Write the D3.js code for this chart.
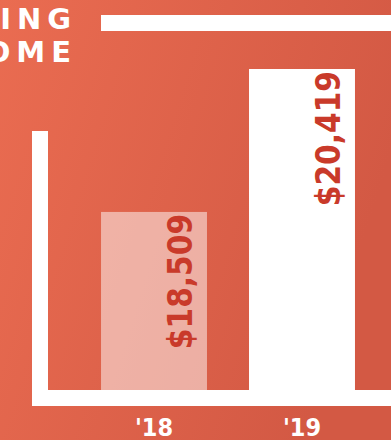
<!DOCTYPE html>
<html>
  <head>
    <meta http-equiv="Content-Type" content="text/html;charset=utf-8"/>
    <title>Rising income</title>
    <script src="https://d3js.org/d3.v7.min.js"></script>
    <style>
      body { margin: 0; overflow: hidden; }
      svg { display: block; }
    </style>
  </head>
  <body>
    <div id="content"></div>
    <script type="text/javascript">

        // chart data
        const years = ["'18", "'19"]
        const incomes = [18509, 20419]
        const titleLines = ["RISING", "INCOME"]

        const width = 391,
            height = 440,
            baseY = 390,
            axisW = 16

        const svg = d3.select('#content').append('svg')
            .attr('width', width)
            .attr('height', height)

        // background gradient
        const grad = svg.append('defs').append('linearGradient')
            .attr('id', 'bg')
            .attr('x1', 0).attr('y1', 0)
            .attr('x2', 1).attr('y2', 0.35)
        grad.append('stop').attr('offset', 0).attr('stop-color', '#ea6c51')
        grad.append('stop').attr('offset', 1).attr('stop-color', '#d35944')

        svg.append('rect')
            .attr('width', width)
            .attr('height', height)
            .attr('fill', 'url(#bg)')

        // title, cut off on the left like the original
        svg.append('g')
            .selectAll('text')
            .data(titleLines)
            .enter()
            .append('text')
            .attr('x', 77)
            .attr('y', (d, i) => 29 + i * 33)
            .attr('text-anchor', 'end')
            .attr('fill', '#fff')
            .attr('font-family', '"DejaVu Sans", sans-serif')
            .attr('font-weight', 700)
            .attr('font-size', 29)
            .attr('letter-spacing', 6)
            .text(d => d)

        // white rule next to the title
        svg.append('rect')
            .attr('x', 101)
            .attr('y', 15)
            .attr('width', width - 101)
            .attr('height', 16)
            .attr('fill', '#fff')

        const xScale = d3.scaleBand()
            .domain(years)
            .range([59, 397])
            .padding(0.284)

        const yScale = d3.scaleLinear()
            .domain([16130, 20419])
            .range([baseY, 69])

        const data = years.map((y, i) => ({ year: y, value: incomes[i] }))

        // bars
        svg.selectAll('rect.bar')
            .data(data)
            .enter()
            .append('rect')
            .attr('class', 'bar')
            .attr('x', d => xScale(d.year))
            .attr('y', d => yScale(d.value))
            .attr('width', xScale.bandwidth())
            .attr('height', d => baseY - yScale(d.value))
            .attr('fill', '#fff')
            .attr('fill-opacity', (d, i) => i === data.length - 1 ? 1 : 0.5)

        // value labels, rotated inside the bars
        svg.selectAll('text.value')
            .data(data)
            .enter()
            .append('text')
            .attr('class', 'value')
            .attr('transform', d => 'translate(' + (xScale(d.year) + xScale.bandwidth() - 15) + ',' + (yScale(d.value) + 2) + ') rotate(-90)')
            .attr('text-anchor', 'end')
            .attr('fill', '#c93a2a')
            .attr('font-family', '"DejaVu Sans Condensed", "DejaVu Sans", sans-serif')
            .attr('font-weight', 700)
            .attr('font-size', 33)
            .text(d => '$' + d3.format(',')(d.value))

        // thick white axes
        svg.append('rect')
            .attr('x', 32)
            .attr('y', 131)
            .attr('width', axisW)
            .attr('height', baseY + axisW - 131)
            .attr('fill', '#fff')

        svg.append('rect')
            .attr('x', 32)
            .attr('y', baseY)
            .attr('width', width - 32)
            .attr('height', axisW)
            .attr('fill', '#fff')

        // year labels
        const xAxis = d3.axisBottom(xScale).tickSize(0).tickPadding(0)
        const gx = svg.append('g')
            .attr('transform', 'translate(0,' + (baseY + axisW) + ')')
            .call(xAxis)
        gx.select('.domain').remove()
        gx.selectAll('text')
            .attr('dy', 0)
            .attr('y', 30)
            .attr('fill', '#fff')
            .attr('font-family', '"DejaVu Sans Condensed", "DejaVu Sans", sans-serif')
            .attr('font-weight', 700)
            .attr('font-size', 25)

    </script>
  </body>
</html>
